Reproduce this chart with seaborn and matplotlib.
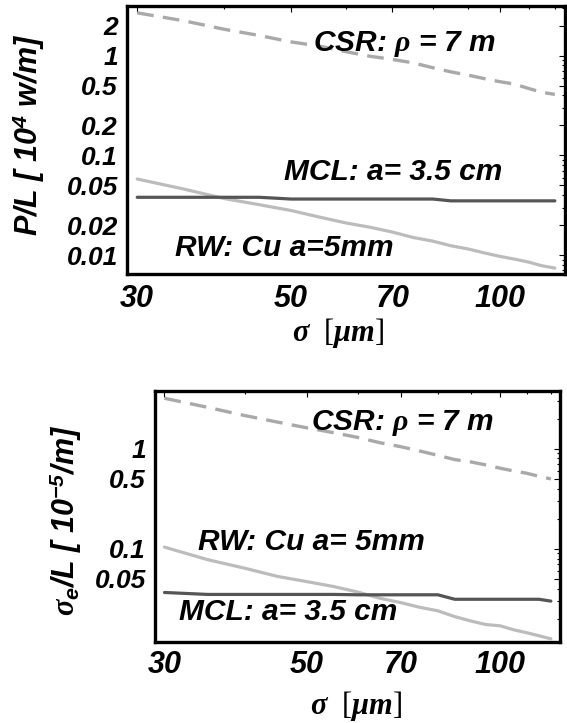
import matplotlib
matplotlib.use("Agg")
import matplotlib.pyplot as plt
import matplotlib.ticker as mticker
import numpy as np
import seaborn as sns

# beam size sigma [um]
sigma = [30, 35, 40, 45, 50, 55, 60, 65, 70, 75, 80, 85, 90, 95, 100, 105, 110, 115, 120]

# top panel: power loss P/L [10^4 W/m]
csr_power = [2.7, 2.25, 1.85, 1.6, 1.38, 1.25, 1.1, 0.99, 0.92, 0.85, 0.76, 0.69, 0.64, 0.59, 0.55, 0.52, 0.47, 0.43, 0.41]
rw_power = [0.058, 0.046, 0.037, 0.032, 0.028, 0.024, 0.021, 0.019, 0.017, 0.015, 0.0138, 0.0124, 0.0115, 0.0105,
            0.0097, 0.0091, 0.0085, 0.0078, 0.0074]
mcl_power = [0.038, 0.038, 0.038, 0.038, 0.0365, 0.0365, 0.0365, 0.0365, 0.0365, 0.0365, 0.0365, 0.035, 0.035,
             0.035, 0.035, 0.035, 0.035, 0.035, 0.035]

# bottom panel: energy spread sigma_e/L [10^-5/m]
csr_spread = [3.2, 2.6, 2.15, 1.85, 1.62, 1.45, 1.3, 1.15, 1.05, 0.95, 0.86, 0.78, 0.74, 0.69, 0.64, 0.6, 0.57,
              0.53, 0.5]
rw_spread = [0.104, 0.078, 0.064, 0.053, 0.047, 0.042, 0.037, 0.032, 0.029, 0.026, 0.024, 0.021, 0.019, 0.0175,
             0.017, 0.0155, 0.0145, 0.0135, 0.0126]
mcl_spread = [0.0366, 0.035, 0.035, 0.035, 0.035, 0.035, 0.0347, 0.0347, 0.0347, 0.0347, 0.0347, 0.0313, 0.0313,
              0.0313, 0.0313, 0.0313, 0.0313, 0.0313, 0.030]

x_ticks = [30, 50, 70, 100]
x_labels = ["30", "50", "70", "100"]
x_minor = [40, 60, 80, 90, 110, 120]
power_ticks = [0.01, 0.02, 0.05, 0.1, 0.2, 0.5, 1, 2]
power_labels = ["0.01", "0.02", "0.05", "0.1", "0.2", "0.5", "1", "2"]
spread_ticks = [0.05, 0.1, 0.5, 1]
spread_labels = ["0.05", "0.1", "0.5", "1"]

sns.set_style("white")
plt.rcParams.update({
    "font.family": ["Liberation Sans", "DejaVu Sans"],
    "font.weight": "bold",
    "font.style": "italic",
    "text.color": "black",
    "axes.labelcolor": "black",
    "xtick.color": "black",
    "ytick.color": "black",
    "mathtext.fontset": "custom",
    "mathtext.rm": "Liberation Sans:bold:italic",
    "mathtext.it": "Liberation Serif:italic",
    "mathtext.bf": "Liberation Serif:bold",
})

CSR_COLOR = "#a9a9a9"
RW_COLOR = "#bcbcbc"
MCL_COLOR = "#555555"

fig = plt.figure(figsize=(5.67, 7.23), dpi=100)
ax_top = fig.add_axes([0.224, 0.621, 0.772, 0.371])
ax_bot = fig.add_axes([0.2734, 0.112, 0.7143, 0.347])


def draw_panel(ax, csr, rw, mcl, yticks, ylabels, ylim, xpad):
    sns.lineplot(x=sigma, y=csr, ax=ax, color=CSR_COLOR, lw=2.4, linestyle=(0, (5, 2.8)), errorbar=None)
    sns.lineplot(x=sigma, y=rw, ax=ax, color=RW_COLOR, lw=2.3, errorbar=None)
    sns.lineplot(x=sigma, y=mcl, ax=ax, color=MCL_COLOR, lw=2.3, errorbar=None)
    ax.set_xscale("log")
    ax.set_yscale("log")
    ax.set_xlim(29.0, 124.0)
    ax.set_ylim(*ylim)
    ax.xaxis.set_major_locator(mticker.FixedLocator(x_ticks))
    ax.xaxis.set_major_formatter(mticker.FixedFormatter(x_labels))
    ax.xaxis.set_minor_locator(mticker.FixedLocator(x_minor))
    ax.xaxis.set_minor_formatter(mticker.NullFormatter())
    ax.yaxis.set_major_locator(mticker.FixedLocator(yticks))
    ax.yaxis.set_major_formatter(mticker.FixedFormatter(ylabels))
    ax.yaxis.set_minor_locator(mticker.LogLocator(base=10, subs=np.arange(2, 10)))
    ax.yaxis.set_minor_formatter(mticker.NullFormatter())
    ax.tick_params(which="both", direction="in", top=True, right=True, color="black", width=0.8)
    ax.tick_params(which="major", length=4)
    ax.tick_params(which="minor", length=2.5)
    ax.tick_params(axis="x", which="major", labelsize=22, pad=xpad)
    ax.tick_params(axis="y", which="major", labelsize=19, pad=6.5)
    for sp in ax.spines.values():
        sp.set_visible(True)
        sp.set_linewidth(2.4)
        sp.set_color("black")


draw_panel(ax_top, csr_power, rw_power, mcl_power, power_ticks, power_labels, (0.00645, 3.18), 7.5)
draw_panel(ax_bot, csr_spread, rw_spread, mcl_spread, spread_ticks, spread_labels, (0.0117, 3.77), 5.5)

txt = dict(fontsize=21.5, fontweight="bold", fontstyle="italic", ha="left", va="center", color="black")
ax_top.text(53.8, 1.32, r"CSR: $\rho$ = 7 m", **txt)
ax_top.text(48.9, 0.0676, "MCL: a= 3.5 cm", **txt)
ax_top.text(34.0, 0.0117, "RW: Cu a=5mm", **txt)
ax_bot.text(50.8, 1.82, r"CSR: $\rho$ = 7 m", **txt)
ax_bot.text(33.8, 0.117, "RW: Cu a= 5mm", **txt)
ax_bot.text(31.6, 0.0231, "MCL: a= 3.5 cm", **txt)

xlab = dict(fontsize=22, fontfamily="Liberation Serif", fontweight="normal", fontstyle="normal")
ax_top.set_xlabel(r"$\sigma$  [$\mu\mathbf{m}$]", **xlab)
ax_top.xaxis.set_label_coords(0.482, -0.22)
ax_top.xaxis.label.set_va("center")
ax_bot.set_xlabel(r"$\sigma$  [$\mu\mathbf{m}$]", **xlab)
ax_bot.xaxis.set_label_coords(0.496, -0.255)
ax_bot.xaxis.label.set_va("center")

ylab = dict(fontsize=22, fontweight="bold", fontstyle="italic")
ax_top.set_ylabel(r"P/L [ 10$^{4}$ w/m]", **ylab)
ax_top.yaxis.set_label_coords(-0.226, 0.518)
ax_top.yaxis.label.set_va("center")
ax_bot.set_ylabel(r"$\sigma_{\mathrm{e}}$/L [ 10$^{-5}$/m]", **ylab)
ax_bot.yaxis.set_label_coords(-0.222, 0.486)
ax_bot.yaxis.label.set_va("center")

fig.savefig("out.png", dpi=100)
